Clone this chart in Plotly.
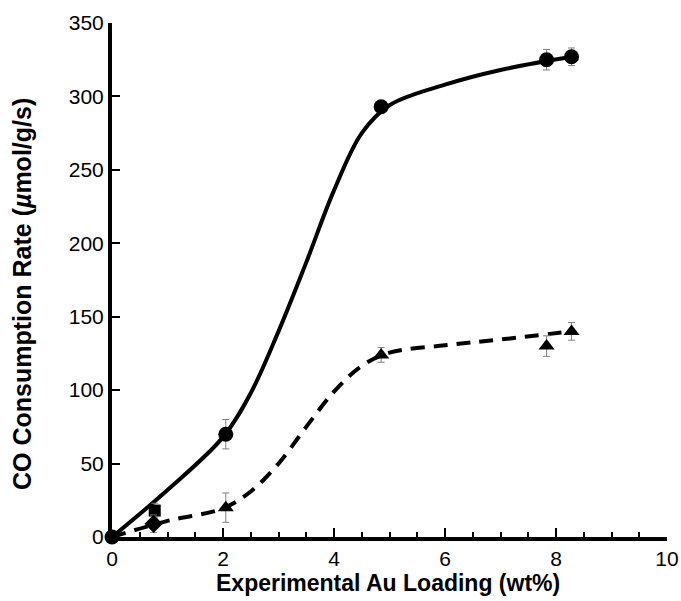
import plotly.graph_objects as go

# Measured data points
circ_x = [0, 2.05, 4.85, 7.83, 8.28]
circ_y = [0, 70, 293, 325, 327]
circ_err = [0, 10, 3, 7, 6]

tri_x = [2.05, 4.85, 7.83, 8.28]
tri_y = [20, 124, 130, 140]
tri_err = [10, 5, 7, 6]

sq_x = [0.77]
sq_y = [18]
sq_err = [5]

dia_x = [0.75]
dia_y = [9]
dia_err = [6]

# Fitted curves
fit_solid_x = [0, 1, 2, 2.5, 3, 3.5, 4, 4.5, 5, 6, 7, 8.28]
fit_solid_y = [0, 32, 68, 98, 140, 187, 236, 275, 294, 308, 318, 327]

fit_dash_x = [0, 1, 2, 2.5, 3, 3.5, 4, 4.5, 5, 6, 7, 8.28]
fit_dash_y = [0, 11, 19.5, 31, 50, 75, 99, 116.5, 125.5, 130.5, 134.5, 140]

x_ticks = [0, 2, 4, 6, 8, 10]
y_ticks = [0, 50, 100, 150, 200, 250, 300, 350]

FONT = "Liberation Sans, Arial, Helvetica, sans-serif"
ERR = dict(type="data", color="#808080", thickness=1, width=3.5, visible=True)

fig = go.Figure()

fig.add_trace(go.Scatter(x=fit_solid_x, y=fit_solid_y, mode="lines",
                         line=dict(color="black", width=4, shape="spline", smoothing=1.0),
                         hoverinfo="skip", cliponaxis=False))
fig.add_trace(go.Scatter(x=fit_dash_x, y=fit_dash_y, mode="lines",
                         line=dict(color="black", width=4, shape="spline", smoothing=1.0, dash="14px,9px"),
                         hoverinfo="skip", cliponaxis=False))

fig.add_trace(go.Scatter(x=tri_x, y=tri_y, mode="markers",
                         marker=dict(symbol="triangle-up", size=14, color="black"),
                         error_y=dict(array=tri_err, **ERR), cliponaxis=False))
fig.add_trace(go.Scatter(x=sq_x, y=sq_y, mode="markers",
                         marker=dict(symbol="square", size=12, color="black"),
                         error_y=dict(array=sq_err, **ERR), cliponaxis=False))
fig.add_trace(go.Scatter(x=dia_x, y=dia_y, mode="markers",
                         marker=dict(symbol="diamond", size=14, color="black"),
                         error_y=dict(array=dia_err, **ERR), cliponaxis=False))
fig.add_trace(go.Scatter(x=circ_x, y=circ_y, mode="markers",
                         marker=dict(symbol="circle", size=15, color="black"),
                         error_y=dict(array=circ_err, **ERR), cliponaxis=False))

fig.update_layout(
    width=681, height=601,
    margin=dict(l=112, r=14, t=23, b=64),
    paper_bgcolor="white", plot_bgcolor="white",
    showlegend=False,
    hovermode=False,
    font=dict(family=FONT, color="black", size=21),
    xaxis=dict(
        range=[0, 10], tickvals=x_ticks, ticktext=[str(v) for v in x_ticks],
        showgrid=False, zeroline=False, automargin=False,
        showline=True, linecolor="black", linewidth=4,
        ticks="inside", ticklen=9, tickwidth=2, tickcolor="black",
        minor=dict(dtick=0.5, ticks="inside", ticklen=5, tickwidth=2, tickcolor="black", showgrid=False),
        tickfont=dict(size=21),
    ),
    yaxis=dict(
        range=[0, 350], tickvals=y_ticks, ticktext=[str(v) for v in y_ticks],
        showgrid=False, zeroline=False, automargin=False,
        showline=True, linecolor="black", linewidth=4,
        ticks="inside", ticklen=8, tickwidth=2, tickcolor="black",
        tickfont=dict(size=21),
    ),
    annotations=[
        dict(text="<b>Experimental Au Loading (wt%)</b>", xref="paper", yref="paper",
             x=0.498, y=-0.0895, xanchor="center", yanchor="middle", showarrow=False,
             font=dict(size=23)),
        dict(text="<b>CO Consumption Rate (<i>µ</i>mol/g/s)</b>", xref="paper", yref="paper",
             x=-0.162, y=0.473, xanchor="center", yanchor="middle", showarrow=False,
             textangle=-90, font=dict(size=25)),
    ],
)

# Remove the default body margin so the figure fills the 681x601 window exactly.
fig.write_html("out.html",
               config={"displayModeBar": False},
               post_script="document.body.style.margin='0';document.body.style.overflow='hidden';")
